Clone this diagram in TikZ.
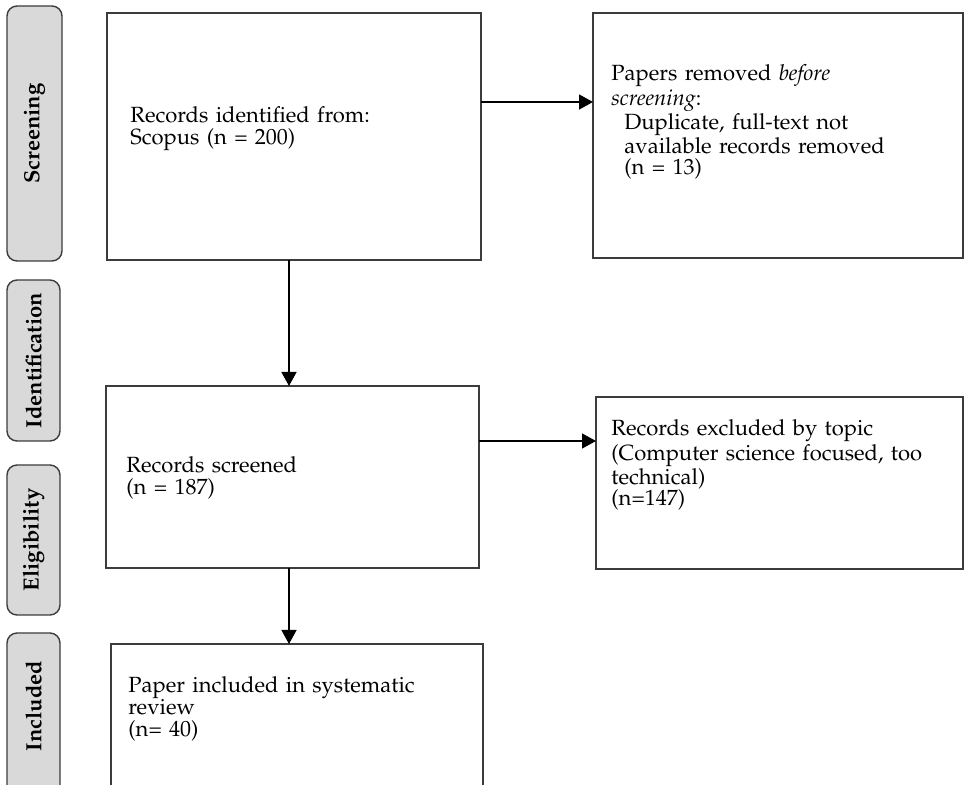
\documentclass[tikz,border=0pt]{standalone}
\usepackage[T1]{fontenc}
\usepackage{mathpazo}
\usetikzlibrary{arrows.meta}
\definecolor{edge}{HTML}{3C3C3C}
\definecolor{pillfill}{HTML}{D9D9D9}
\tikzset{
 box/.style={draw=edge, line width=0.7pt, inner sep=0pt, outer sep=0pt, rectangle},
 pill/.style={draw=edge, fill=pillfill, line width=0.7pt, rounded corners=5pt, inner sep=0pt, outer sep=0pt},
 pilltext/.style={rotate=90, inner sep=0pt, font=\fontsize{11}{13}\selectfont\bfseries, text=black},
 bodytext/.style={anchor=base west, text width=178pt, align=left, inner sep=0pt, text=black, font=\fontsize{11}{10.8}\selectfont},
 arr/.style={draw=black, line width=0.7pt, -{Triangle[length=7pt,width=7.5pt]}},
}
\begin{document}
\lineskiplimit=-30pt\relax
\begin{tikzpicture}[x=0.5pt,y=-0.5pt]
\path[use as bounding box] (0,0) rectangle (965,785);
\clip (0,0) rectangle (965,785);
% stage pills
\node[pill, minimum width=27.5pt, minimum height=127.5pt] (pscr) at (34.5,133.5) {};
\node[pilltext] (tscr) at (pscr.center) {Screening};
\node[pill, minimum width=26.5pt, minimum height=80.5pt] (pide) at (33.5,360.5) {};
\node[pilltext] (tide) at (pide.center) {Identification};
\node[pill, minimum width=26.5pt, minimum height=75pt] (peli) at (33.5,540) {};
\node[pilltext] (teli) at (peli.center) {Eligibility};
\node[pill, minimum width=26.5pt, minimum height=83.5pt] (pinc) at (33.5,716.5) {};
\node[pilltext] (tinc) at (33.5,706) {Included};
% boxes
\node[box, minimum width=187pt, minimum height=123.5pt] (box1) at (294,136.5) {};
\node[box, minimum width=185pt, minimum height=122.5pt] (box2) at (778,135.5) {};
\node[box, minimum width=186.5pt, minimum height=91pt] (box3) at (292.5,477) {};
\node[box, minimum width=183.5pt, minimum height=86pt] (box4) at (779.5,483) {};
\node[box, minimum width=186pt, minimum height=78pt] (box5) at (297,722) {};
% texts
\node[bodytext] (t1) at (130,123) {Records identified from:\\Scopus (n = 200)};
\node[bodytext] (t2) at (611,81) {Papers removed \textit{before}\\\textit{screening}:\\\hspace*{6.5pt}Duplicate, full-text not\\\hspace*{6.5pt}available records removed\\\hspace*{6.5pt}(n = 13)};
\node[bodytext] (t3) at (126,473) {Records screened\\(n = 187)};
\node[bodytext] (t4) at (611,436) {Records excluded by topic\\(Computer science focused, too\\technical)\\(n=147)};
\node[bodytext] (t5) at (128,693) {Paper included in systematic\\review\\(n= 40)};
% connectors
\coordinate (c1) at (289,0);
\coordinate (r1) at (0,102);
\coordinate (r2) at (0,441);
\draw[arr] (box1.south -| c1) -- (box3.north -| c1);
\draw[arr] (box1.east |- r1) -- (box2.west |- r1);
\draw[arr] (box3.east |- r2) -- (box4.west |- r2);
\draw[arr] (box3.south -| c1) -- (box5.north -| c1);
\end{tikzpicture}
\end{document}
